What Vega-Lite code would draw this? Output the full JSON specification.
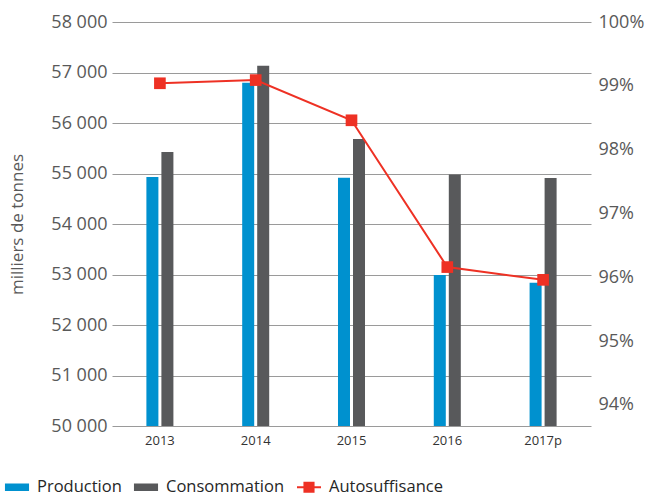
{
  "$schema": "https://vega.github.io/schema/vega-lite/v6.json",
  "width": 479,
  "height": 404,
  "autosize": {"type": "none"},
  "padding": {"left": 112, "top": 22, "right": 57, "bottom": 71},
  "background": "white",
  "config": {"view": {"stroke": null}, "font": "Open Sans"},
  "datasets": {
    "bars": [
      {"annee": "2013", "serie": "Production", "valeur": 54931},
      {"annee": "2013", "serie": "Consommation", "valeur": 55426},
      {"annee": "2014", "serie": "Production", "valeur": 56798},
      {"annee": "2014", "serie": "Consommation", "valeur": 57135},
      {"annee": "2015", "serie": "Production", "valeur": 54917},
      {"annee": "2015", "serie": "Consommation", "valeur": 55683},
      {"annee": "2016", "serie": "Production", "valeur": 52990},
      {"annee": "2016", "serie": "Consommation", "valeur": 54980},
      {"annee": "2017p", "serie": "Production", "valeur": 52838},
      {"annee": "2017p", "serie": "Consommation", "valeur": 54911}
    ],
    "ratio": [
      {"annee": "2013", "taux": 0.9904},
      {"annee": "2014", "taux": 0.9909},
      {"annee": "2015", "taux": 0.9846},
      {"annee": "2016", "taux": 0.9616},
      {"annee": "2017p", "taux": 0.9596}
    ]
  },
  "layer": [
    {
      "data": {"name": "bars"},
      "mark": {"type": "bar", "clip": true},
      "encoding": {
        "x": {
          "field": "annee", "type": "nominal", "sort": null,
          "scale": {"paddingInner": 0.718, "paddingOuter": 0.359},
          "axis": {"title": null, "domain": false, "ticks": false, "labelAngle": 0, "labelFontSize": 13, "labelColor": "#333333", "labelPadding": 8}
        },
        "xOffset": {"field": "serie", "type": "nominal", "sort": ["Production", "Consommation"], "scale": {"paddingInner": 0.2}},
        "y": {
          "field": "valeur", "type": "quantitative",
          "scale": {"domain": [50000, 58000], "nice": false, "zero": false},
          "axis": {
            "values": [50000, 51000, 52000, 53000, 54000, 55000, 56000, 57000, 58000],
            "labelExpr": "replace(format(datum.value, ','), ',', ' ')",
            "grid": true, "gridColor": "#9A9A9A", "gridWidth": 1,
            "domain": false, "ticks": false,
            "labelFontSize": 18, "labelColor": "#595959", "labelPadding": 5,
            "title": "milliers de tonnes", "titleFontSize": 17, "titleFontWeight": "normal", "titleColor": "#595959", "titlePadding": 24
          }
        },
        "color": {
          "field": "serie", "type": "nominal",
          "scale": {"domain": ["Production", "Consommation", "Autosuffisance"], "range": ["#0091CF", "#58595B", "#EE3124"]},
          "legend": {
            "title": null, "orient": "none", "direction": "horizontal", "columns": 3,
            "legendX": -108, "legendY": 452, "padding": 0,
            "labelFont": "Open Sans", "labelFontSize": 16.5, "labelColor": "#262626",
            "symbolSize": 576, "columnPadding": 8, "labelOffset": 7,
            "encode": {
              "symbols": {
                "update": {
                  "shape": {"signal": "datum.label === 'Autosuffisance' ? 'M-1,0H1M-0.38,-0.38H0.38V0.38H-0.38Z' : 'M-0.92,-0.22H0.92V0.22H-0.92Z'"},
                  "fill": {"scale": "color", "field": "value"},
                  "stroke": {"scale": "color", "field": "value"},
                  "strokeWidth": {"value": 2},
                  "opacity": {"value": 1}
                }
              }
            }
          }
        }
      }
    },
    {
      "data": {"name": "ratio"},
      "encoding": {
        "x": {"field": "annee", "type": "nominal", "sort": null},
        "y": {
          "field": "taux", "type": "quantitative",
          "scale": {"domain": [0.9367, 1.0], "nice": false, "zero": false},
          "axis": {
            "orient": "right", "values": [0.94, 0.95, 0.96, 0.97, 0.98, 0.99, 1.0], "format": ".0%",
            "grid": false, "domain": false, "ticks": false,
            "labelFontSize": 18, "labelColor": "#595959", "labelPadding": 7, "title": null
          }
        },
        "color": {"datum": "Autosuffisance"}
      },
      "layer": [
        {"mark": {"type": "line", "strokeWidth": 2}},
        {"mark": {"type": "point", "shape": "square", "filled": true, "size": 136, "opacity": 1}}
      ]
    }
  ],
  "resolve": {"scale": {"y": "independent"}}
}
